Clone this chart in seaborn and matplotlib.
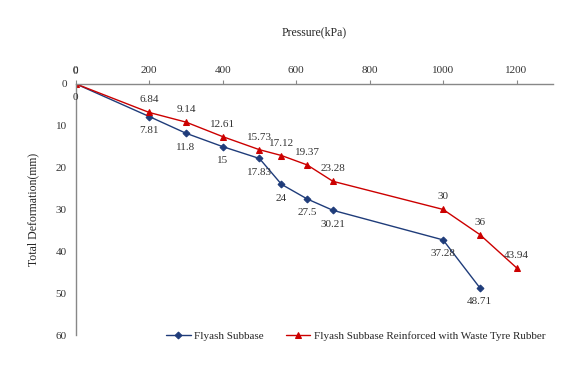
import matplotlib
matplotlib.use("Agg")
import matplotlib.pyplot as plt
import seaborn as sns
import pandas as pd

# pressure (kPa) and total deformation (mm)
p_plain = [0, 200, 300, 400, 500, 560, 630, 700, 1000, 1100]
d_plain = [0, 7.81, 11.8, 15, 17.83, 24, 27.5, 30.21, 37.28, 48.71]
p_rubber = [0, 200, 300, 400, 500, 560, 630, 700, 1000, 1100, 1200]
d_rubber = [0, 6.84, 9.14, 12.61, 15.73, 17.12, 19.37, 23.28, 30, 36, 43.94]
lbl_plain = ["0", "7.81", "11.8", "15", "17.83", "24", "27.5", "30.21", "37.28", "48.71"]
lbl_rubber = ["0", "6.84", "9.14", "12.61", "15.73", "17.12", "19.37", "23.28", "30", "36", "43.94"]

names = ["Flyash Subbase", "Flyash Subbase Reinforced with Waste Tyre Rubber"]
blue = "#1F3C7A"
red = "#CC0000"

sns.set_style("white")
plt.rcParams["font.family"] = ["Liberation Serif", "DejaVu Serif"]

df1 = pd.DataFrame({"p": p_plain, "d": d_plain})
df2 = pd.DataFrame({"p": p_rubber, "d": d_rubber})

fig = plt.figure(figsize=(5.83, 3.9), dpi=100)
ax = fig.add_axes([0.130, 0.141, 0.819, 0.644])

sns.lineplot(data=df1, x="p", y="d", ax=ax, color=blue, marker="D", markersize=3.5,
             markeredgecolor=blue, linewidth=1.0, label=names[0])
sns.lineplot(data=df2, x="p", y="d", ax=ax, color=red, marker="^", markersize=5,
             markeredgecolor=red, linewidth=1.0, label=names[1])

for x, y, t in zip(p_plain, d_plain, lbl_plain):
    ax.annotate(t, (x, y), xytext=(0, -10), textcoords="offset points",
                ha="center", va="center", fontsize=8, color="#333333")
for x, y, t in zip(p_rubber, d_rubber, lbl_rubber):
    ax.annotate(t, (x, y), xytext=(0, 9), textcoords="offset points",
                ha="center", va="center", fontsize=8, color="#333333")

ax.set_xlim(0, 1300)
ax.set_ylim(60, 0)
ax.set_xticks(range(0, 1201, 200))
ax.set_yticks(range(0, 61, 10))
ax.xaxis.tick_top()
ax.xaxis.set_label_position("top")
ax.set_xlabel("Pressure(kPa)", fontsize=8.5, labelpad=22)
ax.set_ylabel("Total Deformation(mm)", fontsize=8.5, labelpad=12)
ax.tick_params(axis="both", labelsize=8, length=3, direction="out",
               color="#888888", labelcolor="#333333")

for s in ["right", "bottom"]:
    ax.spines[s].set_visible(False)
for s in ["left", "top"]:
    ax.spines[s].set_color("#888888")
    ax.spines[s].set_linewidth(1.0)

ax.get_legend().remove()
h, l = ax.get_legend_handles_labels()
fig.legend(h, l, loc="center", bbox_to_anchor=(0.61, 0.138), ncol=2, frameon=False,
           fontsize=8, handlelength=2.2, columnspacing=2.0, handletextpad=0.3)

fig.savefig("out.png", dpi=100)
